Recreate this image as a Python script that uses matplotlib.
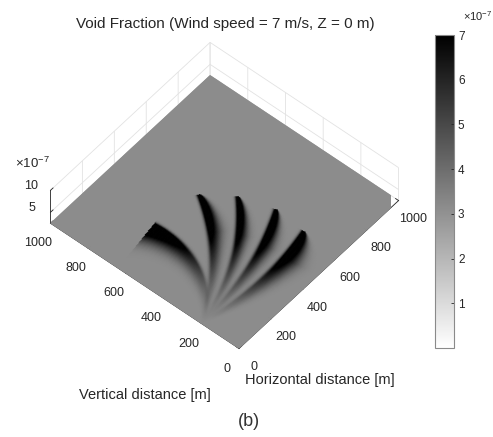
import numpy as np
import matplotlib
matplotlib.use('Agg')
import matplotlib.pyplot as plt
from matplotlib import cm, colors

plt.rcParams['font.family'] = ['Liberation Sans', 'DejaVu Sans']
plt.rcParams['mathtext.fontset'] = 'custom'
plt.rcParams['mathtext.rm'] = 'Liberation Sans'
plt.rcParams['grid.color'] = '#e2e2e2'
plt.rcParams['grid.linewidth'] = 0.6
plt.rcParams['xtick.major.width'] = 0.6
plt.rcParams['ytick.major.width'] = 0.6

# release point on the x = 0 edge (m)
source_x, source_y = 0.0, 196.0
# each plume follows a circular arc: heading at the source and at the end (deg)
heading_start = [25.0, 26.0, 11.0, 0.9, -13.0]
heading_end = [98.0, 56.0, 44.0, 24.9, 11.0]
plume_length = [584.0, 673.0, 680.0, 666.0, 635.0]   # m
plume_peak = [7.0, 8.0, 8.0, 8.0, 8.0]               # x1e-7 above background
plume_width = [85.0, 60.0, 50.0, 60.0, 80.0]         # lateral spread, m
plume_taper = [0.0, 0.3, 0.3, 0.3, 0.25]             # pointed fraction of the end
plume_edge_side = [1, -1, -1, -1, -1]                # side with the sharp front
background = 3.15                                     # x1e-7

axis_ticks = [0, 200, 400, 600, 800, 1000]
z_limits = (2.5, 10)
z_ticks = [5, 10]
cbar_ticks = [1, 2, 3, 4, 5, 6, 7]

TXT = '#262626'


def void_fraction(X, Y):
    C = np.full(X.shape, background)
    for th0, th1, L, peak, w, tap, side in zip(
            heading_start, heading_end, plume_length, plume_peak,
            plume_width, plume_taper, plume_edge_side):
        t0 = np.deg2rad(th0)
        kappa = np.deg2rad(th1 - th0) / L
        rho = 1.0 / kappa
        cx = source_x - rho * np.sin(t0)
        cy = source_y + rho * np.cos(t0)
        dx, dy = X - cx, Y - cy
        psi = np.arctan2(dx, -dy)
        s = ((psi - t0 + np.pi) % (2 * np.pi) - np.pi) / kappa
        t = (np.hypot(dx, dy) - rho) * side
        inside = (s >= 0) & (s <= L)
        frac = np.clip(s / L, 0, 1)
        shape = 0.06 + 0.94 * frac
        if tap > 0:
            shape = shape * np.clip((1 - frac) / tap, 0, 1) ** 0.7
        width = np.maximum(w * shape, 1e-6)
        # soft fall-off behind the front, sharp drop ahead of it
        prof = np.where(t < 0, np.exp(-(t / width) ** 2),
                        np.exp(-(t / 12.0) ** 2))
        c = peak * frac ** 1.6 * prof
        C += np.where(inside, c, 0.0)
    return C


xs = np.linspace(0, 1000, 301)
X, Y = np.meshgrid(xs, xs)
C = void_fraction(X, Y)

norm = colors.Normalize(vmin=0, vmax=7)
cmap = plt.get_cmap('gray_r')

fig = plt.figure(figsize=(4.93, 4.37), dpi=100)
ax = fig.add_axes([0.0982, 0.1497, 0.6957, 0.7849], projection='3d',
                  proj_type='ortho')
ax.view_init(elev=51.7, azim=-139.75)
ax.set_box_aspect((1, 1, 0.215))

# Z = 0 m slice drawn on the floor of the box, coloured by void fraction
ax.plot_surface(X, Y, np.full(X.shape, z_limits[0]),
                facecolors=cmap(norm(C)), rstride=1, cstride=1,
                linewidth=0.3, antialiased=True, shade=False)

ax.set_xlim(0, 1000)
ax.set_ylim(0, 1000)
ax.set_zlim(*z_limits)
ax.set_xticks(axis_ticks)
ax.set_yticks(axis_ticks)
ax.set_zticks(z_ticks)
ax.tick_params(labelsize=9, colors=TXT, pad=2)
ax.tick_params(axis='z', pad=-1)
for t in ax.zaxis.get_major_ticks():
    t.label1.set_verticalalignment('bottom')

for a in (ax.xaxis, ax.yaxis, ax.zaxis):
    a.set_pane_color((1, 1, 1, 0))
    a.pane.set_edgecolor((1, 1, 1, 0))
    a.line.set_color(TXT)
    a.line.set_linewidth(0.6)
    a._axinfo['tick'].update(inward_factor=0.0, outward_factor=0.2)

# colorbar on the right
cax = fig.add_axes([0.882, 0.2037, 0.0385, 0.716])
cb = fig.colorbar(cm.ScalarMappable(norm=norm, cmap=cmap), cax=cax,
                  ticks=cbar_ticks)
cb.outline.set_edgecolor('#8a8a8a')
cb.outline.set_linewidth(0.8)
cax.tick_params(direction='in', length=2.5, width=0.6, labelsize=8.5,
                colors=TXT, pad=3)

fig.text(225 / 493, 1 - 24 / 437,
         'Void Fraction (Wind speed = 7 m/s, Z = 0 m)',
         ha='center', va='center', fontsize=11, color=TXT)
fig.text(320 / 493, 1 - 380 / 437, 'Horizontal distance [m]',
         ha='center', va='center', fontsize=10.5, color=TXT)
fig.text(145 / 493, 1 - 395 / 437, 'Vertical distance [m]',
         ha='center', va='center', fontsize=10.5, color=TXT)
fig.text(32 / 493, 1 - 163 / 437, r'$\times\mathregular{10^{-7}}$',
         ha='center', va='center', fontsize=9.5, color=TXT)
fig.text(478 / 493, 1 - 16 / 437, r'$\times\mathregular{10^{-7}}$',
         ha='center', va='center', fontsize=8, color=TXT)
fig.text(249 / 493, 1 - 421 / 437, '(b)',
         ha='center', va='center', fontsize=13, color='#333333')

fig.savefig('out.png', dpi=100, facecolor='white')
